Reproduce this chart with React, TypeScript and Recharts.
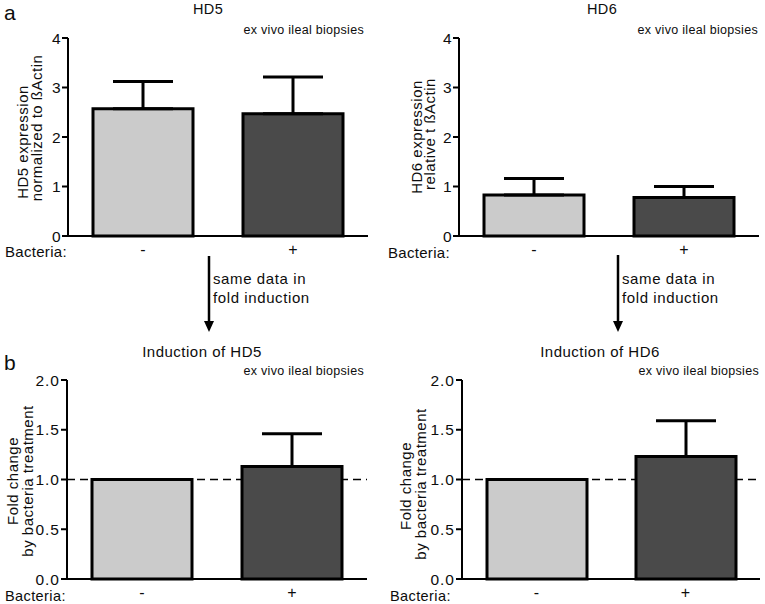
import React from 'react';
import {
  Bar,
  BarChart,
  Cell,
  ErrorBar,
  ReferenceLine,
  XAxis,
  YAxis,
} from 'recharts';

// ── data ──
const GROUPS = ['-', '+'];
const HD5_MEAN = [2.57, 2.47];
const HD5_SEM = [0.55, 0.74];
const HD6_MEAN = [0.83, 0.78];
const HD6_SEM = [0.33, 0.22];
const HD5_FOLD = [1.0, 1.13];
const HD5_FOLD_SEM = [0, 0.33];
const HD6_FOLD = [1.0, 1.23];
const HD6_FOLD_SEM = [0, 0.36];
const EXPR_TICKS = [0, 1, 2, 3, 4];
const FOLD_TICKS = [0, 0.5, 1, 1.5, 2];

const BAR_COLORS = ['#cbcbcb', '#4a4a4a'];
const FONT = '"Liberation Sans", Arial, Helvetica, sans-serif';
const INK = '#0d0d0d';

function toRows(means: number[], sems: number[]) {
  return GROUPS.map((g, i) => ({ group: g, mean: means[i], err: [0, sems[i]] }));
}

interface PanelProps {
  left: number;
  top: number;
  width: number;
  height: number;
  margin: { top: number; right: number; bottom: number; left: number };
  yWidth: number;
  xHeight: number;
  means: number[];
  sems: number[];
  ticks: number[];
  fold?: boolean;
}

function Panel({ left, top, width, height, margin, yWidth, xHeight, means, sems, ticks, fold }: PanelProps) {
  const data = toRows(means, sems);
  const tickStyle = { fontSize: 15.5, fill: INK, fontFamily: FONT, letterSpacing: fold ? 1 : 0.4 };
  return (
    <div style={{ position: 'absolute', left, top, width, height }}>
      <BarChart width={width} height={height} data={data} margin={margin} barSize={100}>
        <XAxis
          dataKey='group'
          height={xHeight}
          tickLine={false}
          axisLine={{ stroke: '#000', strokeWidth: 2 }}
          tick={{ ...tickStyle, fontSize: 16, letterSpacing: 0 }}
        />
        <XAxis
          xAxisId='top'
          orientation='top'
          dataKey='group'
          height={0}
          tick={false}
          tickLine={false}
          axisLine={{ stroke: '#000', strokeWidth: 2 }}
        />
        <YAxis
          width={yWidth}
          domain={[ticks[0], ticks[ticks.length - 1]]}
          ticks={ticks}
          interval={0}
          tickSize={6}
          tickMargin={1}
          tickLine={{ stroke: '#000', strokeWidth: 2 }}
          axisLine={{ stroke: '#000', strokeWidth: 2 }}
          tick={tickStyle}
          tickFormatter={(v) => (fold ? Number(v).toFixed(1) : String(v))}
        />
        <YAxis
          yAxisId='right'
          orientation='right'
          width={0}
          domain={[ticks[0], ticks[ticks.length - 1]]}
          tick={false}
          tickLine={false}
          axisLine={{ stroke: '#000', strokeWidth: 2 }}
        />
        {fold && (
          <ReferenceLine
            y={1}
            stroke='#000'
            strokeWidth={1.5}
            strokeDasharray='8 5'
            zIndex={100}
          />
        )}
        <Bar dataKey='mean' stroke='#000' strokeWidth={3} isAnimationActive={false}>
          {data.map((d, i) => (
            <Cell key={d.group} fill={BAR_COLORS[i]} />
          ))}
          <ErrorBar dataKey='err' direction='y' width={30} stroke='#000' strokeWidth={3} />
        </Bar>
      </BarChart>
    </div>
  );
}

function Arrow({ x, y1, y2 }: { x: number; y1: number; y2: number }) {
  return (
    <g>
      <line x1={x} y1={y1} x2={x} y2={y2 - 9} stroke='#000' strokeWidth={2.5} />
      <polygon points={`${x - 5},${y2 - 11} ${x + 5},${y2 - 11} ${x},${y2}`} fill='#000' />
    </g>
  );
}

function YLabel({ x, y, text }: { x: number; y: number; text: string }) {
  return (
    <text
      x={x}
      y={y}
      transform={`rotate(-90 ${x} ${y})`}
      textAnchor='middle'
      dominantBaseline='central'
      fontSize={15}
      letterSpacing={0.5}>
      {text}
    </text>
  );
}

export default function App() {
  return (
    <div
      style={{
        position: 'absolute',
        left: 0,
        top: 0,
        width: 765,
        height: 604,
        background: '#fff',
        fontFamily: FONT,
        overflow: 'hidden',
      }}>
      <Panel
        left={0}
        top={0}
        width={380}
        height={270}
        margin={{ top: 38, right: 12, bottom: 0, left: 0 }}
        yWidth={68}
        xHeight={34}
        means={HD5_MEAN}
        sems={HD5_SEM}
        ticks={EXPR_TICKS}
      />
      <Panel
        left={380}
        top={0}
        width={385}
        height={270}
        margin={{ top: 38, right: 6, bottom: 0, left: 0 }}
        yWidth={79}
        xHeight={34}
        means={HD6_MEAN}
        sems={HD6_SEM}
        ticks={EXPR_TICKS}
      />
      <Panel
        left={0}
        top={340}
        width={380}
        height={264}
        margin={{ top: 40, right: 13, bottom: 0, left: 0 }}
        yWidth={67}
        xHeight={25}
        means={HD5_FOLD}
        sems={HD5_FOLD_SEM}
        ticks={FOLD_TICKS}
        fold
      />
      <Panel
        left={380}
        top={340}
        width={385}
        height={264}
        margin={{ top: 40, right: 5, bottom: 0, left: 0 }}
        yWidth={82}
        xHeight={25}
        means={HD6_FOLD}
        sems={HD6_FOLD_SEM}
        ticks={FOLD_TICKS}
        fold
      />

      <svg
        width={765}
        height={604}
        style={{ position: 'absolute', left: 0, top: 0, pointerEvents: 'none', fontFamily: FONT }}
        fill={INK}>
        <text x={4} y={20} fontSize={21}>a</text>
        <text x={4} y={370} fontSize={21}>b</text>

        <text x={208} y={14} fontSize={14.5} textAnchor='middle' letterSpacing={0.4}>HD5</text>
        <text x={602} y={14} fontSize={14.5} textAnchor='middle' letterSpacing={0.4}>HD6</text>
        <text x={202} y={357} fontSize={15} textAnchor='middle' letterSpacing={0.5}>Induction of HD5</text>
        <text x={600} y={357} fontSize={15} textAnchor='middle' letterSpacing={0.5}>Induction of HD6</text>

        <text x={364} y={34} fontSize={12.5} textAnchor='end' letterSpacing={0.3}>ex vivo ileal biopsies</text>
        <text x={758} y={34} fontSize={12.5} textAnchor='end' letterSpacing={0.3}>ex vivo ileal biopsies</text>
        <text x={364} y={375} fontSize={12.5} textAnchor='end' letterSpacing={0.3}>ex vivo ileal biopsies</text>
        <text x={759} y={375} fontSize={12.5} textAnchor='end' letterSpacing={0.3}>ex vivo ileal biopsies</text>

        <text x={5} y={257} fontSize={15} letterSpacing={0.3}>Bacteria:</text>
        <text x={388} y={258} fontSize={15} letterSpacing={0.3}>Bacteria:</text>
        <text x={5} y={601} fontSize={14.5} letterSpacing={0.4}>Bacteria:</text>
        <text x={390} y={601} fontSize={14.5} letterSpacing={0.4}>Bacteria:</text>

        <YLabel x={22} y={142} text='HD5 expression' />
        <YLabel x={36} y={128} text='normalized to ßActin' />
        <YLabel x={416} y={137} text='HD6 expression' />
        <YLabel x={429} y={134} text='relative t ßActin' />
        <YLabel x={12} y={481} text='Fold change' />
        <YLabel x={27} y={481} text='by bacteria treatment' />
        <YLabel x={405} y={486} text='Fold change' />
        <YLabel x={420} y={484} text='by bacteria treatment' />

        <Arrow x={209} y1={256} y2={332} />
        <Arrow x={618} y1={255} y2={332} />
        <text x={213} y={284} fontSize={15} letterSpacing={0.6}>same data in</text>
        <text x={213} y={303} fontSize={15} letterSpacing={0.6}>fold induction</text>
        <text x={622} y={284} fontSize={15} letterSpacing={0.6}>same data in</text>
        <text x={622} y={303} fontSize={15} letterSpacing={0.6}>fold induction</text>
      </svg>
    </div>
  );
}
